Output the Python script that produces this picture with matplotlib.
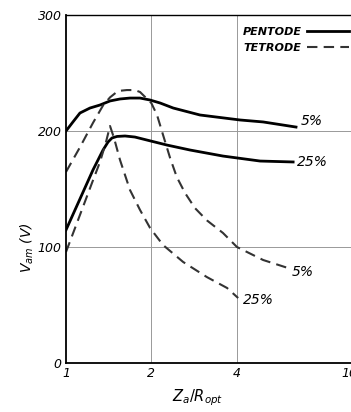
import matplotlib
matplotlib.use("Agg")
import matplotlib.pyplot as plt

# Z_a / R_opt (log axis) and V_am (V)
pent5_x = [1.0, 1.058, 1.12, 1.215, 1.318, 1.43, 1.551, 1.682, 1.825, 1.98, 2.15, 2.39, 2.97, 4.11, 4.96, 6.48]
pent5_y = [200, 207.8, 215.5, 219.8, 222.4, 225.9, 227.6, 228.4, 228.4, 226.7, 224.1, 219.8, 213.8, 209.5, 207.8, 203.4]

pent25_x = [1.0, 1.12, 1.245, 1.351, 1.407, 1.453, 1.514, 1.615, 1.75, 1.93, 2.27, 2.74, 3.58, 4.84, 6.33]
pent25_y = [114.7, 141.4, 166.4, 183.6, 190.5, 194, 195.3, 195.7, 194.8, 192.2, 187.9, 183.6, 178.4, 174.1, 173.3]

tet5_x = [1.0, 1.12, 1.245, 1.351, 1.43, 1.526, 1.64, 1.75, 1.825, 2.0, 2.095, 2.2, 2.33, 2.46, 2.63,
          2.85, 3.14, 3.58, 4.01, 4.96, 6.07]
tet5_y = [164.7, 186, 207, 222, 229, 234.5, 235.3, 235.3, 233.6, 224.1, 213.8, 196.6, 176.7, 160.3, 146.6,
          133.6, 123, 112.1, 100, 88.8, 81.9]

tet25_x = [1.0, 1.12, 1.235, 1.318, 1.384, 1.43, 1.477, 1.551, 1.682, 1.825, 1.98, 2.2, 2.59, 3.14, 3.7, 4.05]
tet25_y = [95.7, 127.6, 155.2, 173.3, 190.5, 204.3, 194, 175, 149.1, 131.9, 116.4, 101.7, 87.1, 74.1, 64.7, 56]

xticks = [1, 2, 4, 10]
yticks = [0, 100, 200, 300]

fig = plt.figure(figsize=(3.51, 4.12), dpi=100)
ax = fig.add_axes([66 / 351, 49 / 412, 1 - 66 / 351, 348 / 412])

lw_solid = 2.0
lw_dash = 1.5
dash = (0, (5, 3))

ax.plot(pent5_x, pent5_y, color="black", lw=lw_solid, label="PENTODE")
ax.plot(pent25_x, pent25_y, color="black", lw=lw_solid)
ax.plot(tet5_x, tet5_y, color="#333333", lw=lw_dash, linestyle=dash, label="TETRODE")
ax.plot(tet25_x, tet25_y, color="#333333", lw=lw_dash, linestyle=dash)

ax.set_xscale("log")
ax.set_xlim(1, 10.13)
ax.set_ylim(0, 300)

# grid only at 2, 4 and 100, 200
for v in [2, 4]:
    ax.axvline(v, color="#999999", lw=0.7, zorder=0)
for v in [100, 200]:
    ax.axhline(v, color="#999999", lw=0.7, zorder=0)

ax.set_xticks(xticks)
ax.set_xticklabels([str(t) for t in xticks], fontstyle="italic", fontsize=9)
ax.set_yticks(yticks)
ax.set_yticklabels([str(t) for t in yticks], fontstyle="italic", fontsize=9)
ax.minorticks_off()
ax.tick_params(length=0, pad=3)

ax.spines["right"].set_visible(False)
for s in ["left", "bottom"]:
    ax.spines[s].set_linewidth(1.3)
ax.spines["top"].set_linewidth(1.0)

# curve labels
kw = dict(fontsize=10, fontstyle="italic", va="center", ha="left")
ax.text(6.75, 208.6, "5%", **kw)
ax.text(6.53, 173, "25%", **kw)
ax.text(6.27, 78.4, "5%", **kw)
ax.text(4.21, 54.3, "25%", **kw)

leg = ax.legend(loc="upper left", bbox_to_anchor=(0.62, 0.966), frameon=False,
                markerfirst=False, handlelength=3.8, handletextpad=0.45,
                labelspacing=0.55, borderaxespad=0, borderpad=0,
                prop=dict(size=8, weight="bold", style="italic"))

fig.text(27 / 351, 1 - 248 / 412, r"$V_{am}$ (V)", rotation=90,
         ha="center", va="center", fontsize=10, fontstyle="italic")
fig.text(198 / 351, 1 - 398 / 412, r"$Z_a/R_{opt}$", ha="center", va="center",
         fontsize=10.5)

fig.savefig("out.png", dpi=100)
